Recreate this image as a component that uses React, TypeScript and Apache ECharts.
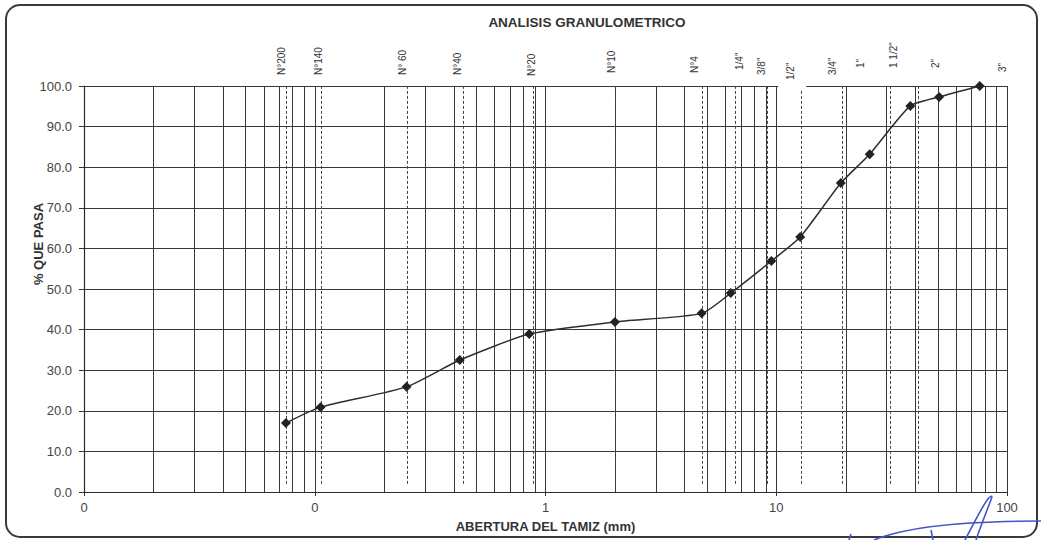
import React, { useEffect, useRef } from "react";
import * as echarts from "echarts";

// ---- data ----
const sieveNames = ["N°200", "N°140", "N° 60", "N°40", "N°20", "N°10", "N°4", '1/4"', '3/8"', '1/2"', '3/4"', '1"', '1 1/2"', '2"', '3"'];
const sieveOpenings = [0.075, 0.106, 0.25, 0.425, 0.85, 2.0, 4.75, 6.35, 9.525, 12.7, 19.05, 25.4, 38.1, 50.8, 76.2];
const percentPassing = [17.0, 20.9, 25.9, 32.5, 38.9, 41.9, 44.0, 49.0, 56.9, 62.8, 76.1, 83.2, 95.1, 97.3, 100.0];
// dashed guide lines drawn on the sheet (mm)
const guideLines = [0.075, 0.106, 0.25, 0.44, 0.88, 2.0, 4.75, 6.6, 9.1, 12.8, 19.2, 31, 41];
// where each rotated sieve label sits along the axis (mm)
const labelAnchors = [0.072, 0.104, 0.24, 0.417, 0.872, 1.94, 4.44, 6.96, 8.67, 11.5, 17.6, 23.1, 32.1, 48.8, 95.3];
// style: pixel lift of each label above the plot top, and white mask width
const labelLift = [11, 11, 11, 11, 10, 13, 13, 16, 11, 6, 11, 18, 18, 18, 14];
const labelMask = [0, 0, 0, 0, 0, 0, 0, 0, 0, 28, 0, 0, 0, 0, 0];
const decades = [0.01, 0.1, 1, 10];
const minorSteps = [2, 3, 4, 5, 6, 7, 8, 9];

const FONT = "'Liberation Sans', Arial, sans-serif";
const GRID = "#383838";

export default function App() {
  const ref = useRef<HTMLDivElement>(null);
  useEffect(() => {
    if (!ref.current) return;
    const chart = echarts.init(ref.current, undefined, { renderer: "svg" });
    const minorGrid: number[] = [];
    decades.forEach((d) => minorSteps.forEach((m) => minorGrid.push(+(d * m).toPrecision(3))));

    const option: any = {
      animation: false,
      backgroundColor: "#ffffff",
      grid: { left: 84, right: 34, top: 86, bottom: 48 },
      xAxis: {
        type: "log",
        logBase: 10,
        min: 0.01,
        max: 100,
        axisLine: { show: true, onZero: false, lineStyle: { color: "#2a2a2a", width: 1.2 } },
        axisTick: { show: true, length: 4, lineStyle: { color: "#333" } },
        axisLabel: {
          formatter: (v: number) => (v < 1 ? "0" : String(Math.round(v))),
          color: "#444",
          fontSize: 13,
          fontFamily: FONT,
          margin: 9,
        },
        splitLine: { show: true, lineStyle: { color: GRID, width: 1 } },
        name: "ABERTURA DEL TAMIZ (mm)",
        nameLocation: "middle",
        nameGap: 28,
        nameTextStyle: { fontWeight: "bold", fontSize: 13, color: "#333", fontFamily: FONT },
      },
      yAxis: {
        type: "value",
        min: 0,
        max: 100,
        interval: 10,
        axisLine: { show: true, lineStyle: { color: "#2a2a2a", width: 1.2 } },
        axisTick: { show: true, length: 5, lineStyle: { color: "#333" } },
        axisLabel: {
          formatter: (v: number) => v.toFixed(1),
          color: "#444",
          fontSize: 13,
          fontFamily: FONT,
          margin: 12,
        },
        splitLine: { show: true, lineStyle: { color: GRID, width: 1 } },
      },
      graphic: [
        {
          type: "rect",
          shape: { x: 6, y: 5, width: 1031, height: 532, r: 14 },
          style: { fill: "none", stroke: "#3a3a3a", lineWidth: 2 },
          z: -10,
        },
        {
          type: "text",
          x: 587,
          y: 22,
          style: {
            text: "ANALISIS GRANULOMETRICO",
            font: `bold 13.5px ${FONT}`,
            fill: "#333",
            align: "center",
            verticalAlign: "middle",
          },
        },
        {
          type: "text",
          x: 38,
          y: 244,
          rotation: Math.PI / 2,
          style: {
            text: "% QUE PASA",
            font: `bold 13px ${FONT}`,
            fill: "#333",
            align: "center",
            verticalAlign: "middle",
          },
        },
        // signature strokes
        {
          type: "bezierCurve",
          shape: { x1: 874, y1: 540, cpx1: 905, cpy1: 527, cpx2: 960, cpy2: 521, x2: 1041, y2: 521 },
          style: { stroke: "#4656c8", lineWidth: 1.6, fill: "none" },
        },
        {
          type: "bezierCurve",
          shape: { x1: 965, y1: 540, cpx1: 978, cpy1: 515, cpx2: 990, cpy2: 492, x2: 992, y2: 497 },
          style: { stroke: "#4656c8", lineWidth: 1.6, fill: "none" },
        },
        {
          type: "bezierCurve",
          shape: { x1: 992, y1: 497, cpx1: 988, cpy1: 508, cpx2: 981, cpy2: 525, x2: 976, y2: 540 },
          style: { stroke: "#4656c8", lineWidth: 1.6, fill: "none" },
        },
        {
          type: "line",
          shape: { x1: 931, y1: 530, x2: 933, y2: 540 },
          style: { stroke: "#4656c8", lineWidth: 1.6 },
        },
        {
          type: "line",
          shape: { x1: 851, y1: 534, x2: 849, y2: 540 },
          style: { stroke: "#4656c8", lineWidth: 1.6 },
        },
      ],
      series: [
        {
          type: "custom",
          silent: true,
          clip: false,
          z: 1,
          data: minorGrid.map((v) => [v, 0]),
          encode: { x: 0, y: 1 },
          renderItem: (_p: any, api: any) => {
            const x = api.value(0);
            const a = api.coord([x, 0]);
            const b = api.coord([x, 100]);
            const px = Math.round(a[0]) + 0.5;
            return {
              type: "line",
              shape: { x1: px, y1: a[1], x2: px, y2: b[1] },
              style: { stroke: GRID, lineWidth: 1 },
            };
          },
        },
        {
          type: "custom",
          silent: true,
          clip: false,
          z: 1,
          data: guideLines.map((v) => [v, 0]),
          encode: { x: 0, y: 1 },
          renderItem: (_p: any, api: any) => {
            const x = api.value(0);
            const a = api.coord([x, 2]);
            const b = api.coord([x, 100]);
            const px = Math.round(a[0]) + 0.5;
            return {
              type: "line",
              shape: { x1: px, y1: a[1], x2: px, y2: b[1] },
              style: { stroke: "#444", lineWidth: 1, lineDash: [3, 2] },
            };
          },
        },
        {
          type: "custom",
          silent: true,
          clip: false,
          z: 3,
          data: labelAnchors.map((v, i) => [v, 100, i]),
          encode: { x: 0, y: 1 },
          renderItem: (_p: any, api: any) => {
            const i = api.value(2);
            const p = api.coord([api.value(0), 100]);
            const by = p[1] - labelLift[i];
            const children: any[] = [];
            if (labelMask[i] > 0) {
              children.push({
                type: "rect",
                shape: { x: p[0] - 12, y: by - 32, width: labelMask[i], height: p[1] - by + 36 },
                style: { fill: "#ffffff" },
              });
            }
            children.push({
              type: "text",
              x: p[0],
              y: by,
              rotation: Math.PI / 2,
              style: {
                text: sieveNames[i],
                font: `10px ${FONT}`,
                fill: "#333",
                align: "left",
                verticalAlign: "middle",
              },
            });
            return { type: "group", children };
          },
        },
        {
          type: "line",
          z: 5,
          data: sieveOpenings.map((x, i) => [x, percentPassing[i]]),
          symbol: "diamond",
          symbolSize: 10,
          smooth: 0.2,
          itemStyle: { color: "#222" },
          lineStyle: { color: "#2e2e2e", width: 1.5 },
        },
      ],
    };
    chart.setOption(option);
    return () => chart.dispose();
  }, []);

  return (
    <div
      ref={ref}
      style={{ position: "fixed", left: 0, top: 0, width: 1041, height: 540, background: "#fff" }}
    />
  );
}
